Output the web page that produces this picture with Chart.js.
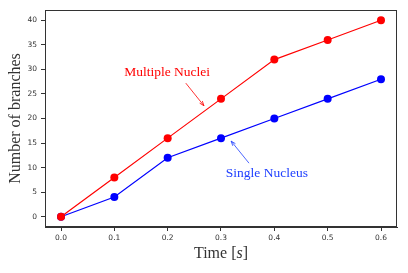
<!DOCTYPE html>
<html><head><meta charset="utf-8">
<script src="https://cdn.jsdelivr.net/npm/chart.js@4"></script>
<style>html,body{margin:0;padding:0;background:#fff}#c{display:block}</style>
</head><body>
<canvas id="c" width="408" height="273"></canvas>
<script>
const times = [0.0, 0.1, 0.2, 0.3, 0.4, 0.5, 0.6];
const multipleNuclei = [0, 8, 16, 24, 32, 36, 40];
const singleNucleus = [0, 4, 12, 16, 20, 24, 28];
const xTicks = [0.0, 0.1, 0.2, 0.3, 0.4, 0.5, 0.6];
const yTicks = [0, 5, 10, 15, 20, 25, 30, 35, 40];
const notes = [
  {text: 'Multiple Nuclei', color: '#ff0000', tx: 0.199, ty: 29.3, ax: 0.234, ay: 27.2, bx: 0.268, by: 22.6},
  {text: 'Single Nucleus', color: '#2040ff', tx: 0.386, ty: 8.9, ax: 0.3525, ay: 10.9, bx: 0.319, by: 15.4}
];
const serif = '"Liberation Serif", "Times New Roman", serif';

const pts = a => a.map((v, i) => ({x: times[i], y: v}));

const deco = {
  id: 'deco',
  afterDraw(chart) {
    const {ctx, chartArea: ca, scales: {x, y}} = chart;
    ctx.save();
    // frame
    ctx.strokeStyle = '#333';
    ctx.lineWidth = 1;
    ctx.strokeRect(ca.left + 0.5, ca.top + 0.5, ca.right - ca.left - 1, ca.bottom - ca.top - 1);
    // annotations
    notes.forEach(n => {
      ctx.fillStyle = n.color;
      ctx.strokeStyle = n.color;
      ctx.font = '13.5px ' + serif;
      ctx.textAlign = 'center';
      ctx.textBaseline = 'middle';
      ctx.fillText(n.text, x.getPixelForValue(n.tx), y.getPixelForValue(n.ty));
      const x1 = x.getPixelForValue(n.ax), y1 = y.getPixelForValue(n.ay);
      const x2 = x.getPixelForValue(n.bx), y2 = y.getPixelForValue(n.by);
      ctx.lineWidth = 0.8;
      ctx.beginPath(); ctx.moveTo(x1, y1); ctx.lineTo(x2, y2); ctx.stroke();
      const ang = Math.atan2(y2 - y1, x2 - x1), L = 5, W = 0.35;
      ctx.beginPath();
      ctx.moveTo(x2, y2);
      ctx.lineTo(x2 - L * Math.cos(ang - W), y2 - L * Math.sin(ang - W));
      ctx.moveTo(x2, y2);
      ctx.lineTo(x2 - L * Math.cos(ang + W), y2 - L * Math.sin(ang + W));
      ctx.stroke();
    });
    // axis titles
    ctx.fillStyle = '#333';
    ctx.textBaseline = 'middle';
    const f1 = '16px ' + serif, f2 = 'italic 16px ' + serif;
    const parts = [['Time [', f1], ['s', f2], [']', f1]];
    let tw = 0;
    parts.forEach(p => { ctx.font = p[1]; tw += ctx.measureText(p[0]).width; });
    let cx = (ca.left + ca.right) / 2 - tw / 2;
    ctx.textAlign = 'left';
    parts.forEach(p => { ctx.font = p[1]; ctx.fillText(p[0], cx, 254); cx += ctx.measureText(p[0]).width; });
    ctx.save();
    ctx.translate(16, (ca.top + ca.bottom) / 2);
    ctx.rotate(-Math.PI / 2);
    ctx.textAlign = 'center';
    ctx.font = '16px ' + serif;
    ctx.fillText('Number of branches', 0, 0);
    ctx.restore();
    ctx.restore();
  }
};

new Chart(document.getElementById('c'), {
  type: 'line',
  data: {
    datasets: [
      {data: pts(multipleNuclei), borderColor: '#ff0000', backgroundColor: '#ff0000', borderWidth: 1.2, pointRadius: 4, pointBorderWidth: 0, tension: 0},
      {data: pts(singleNucleus), borderColor: '#0000ff', backgroundColor: '#0000ff', borderWidth: 1.2, pointRadius: 4, pointBorderWidth: 0, tension: 0}
    ]
  },
  options: {
    responsive: false,
    animation: false,
    events: [],
    layout: {padding: {top: 10, right: 11, left: 0, bottom: 0}},
    plugins: {legend: {display: false}, tooltip: {enabled: false}},
    scales: {
      x: {
        type: 'linear', min: -0.03, max: 0.63,
        afterBuildTicks: s => { s.ticks = xTicks.map(v => ({value: v})); },
        afterFit: s => { s.height = 46; },
        grid: {drawOnChartArea: false, drawTicks: true, tickLength: 4, tickColor: '#333'},
        border: {display: true, color: '#333', width: 1},
        ticks: {color: '#333', font: {family: 'DejaVu Sans', size: 7.5}, padding: 3, maxRotation: 0, callback: v => Number(v).toFixed(1)}
      },
      y: {
        type: 'linear', min: -2.1, max: 42.1,
        afterBuildTicks: s => { s.ticks = yTicks.map(v => ({value: v})); },
        afterFit: s => { s.width = 45; },
        grid: {drawOnChartArea: false, drawTicks: true, tickLength: 4, tickColor: '#333'},
        border: {display: true, color: '#333', width: 1},
        ticks: {color: '#333', font: {family: 'DejaVu Sans', size: 7.5}, padding: 4, callback: v => String(v)}
      }
    }
  },
  plugins: [deco]
});
</script>
</body></html>
